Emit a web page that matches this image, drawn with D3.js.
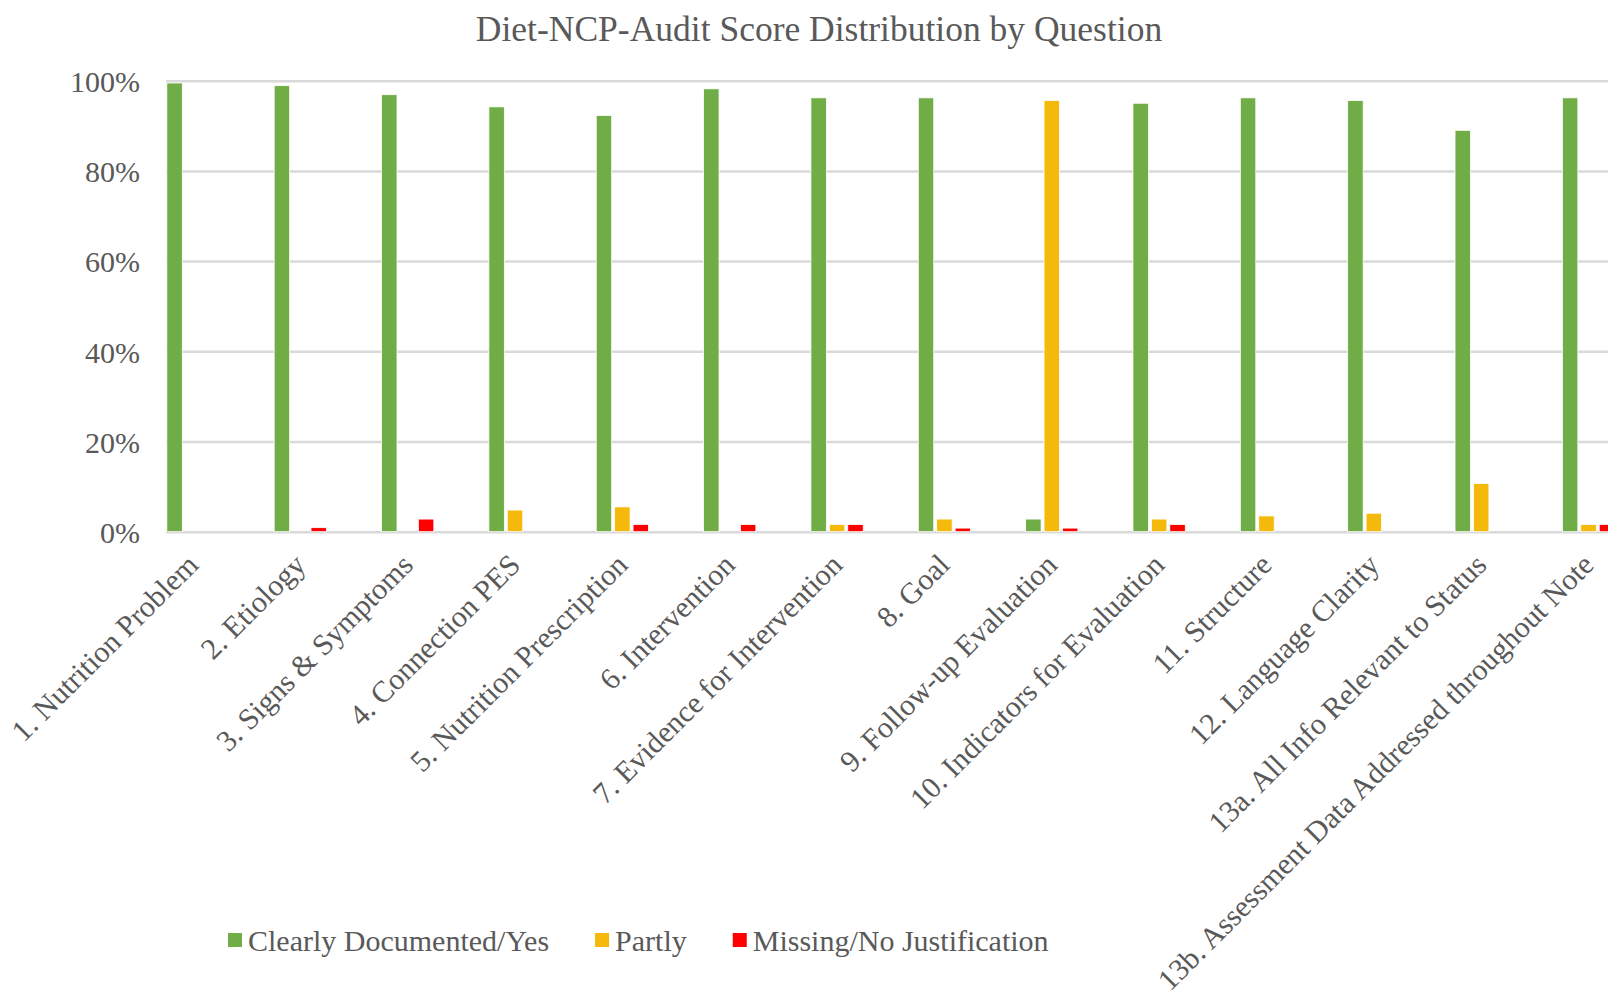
<!DOCTYPE html>
<html>
<head>
<meta charset="utf-8">
<script src="https://cdn.jsdelivr.net/npm/d3@7"></script>
<style>
  body { margin: 0; background: #fff; }
  svg { display: block; font-family: "Liberation Serif", "Times New Roman", serif; }
</style>
</head>
<body>
<svg id="chart"></svg>
<script>
// categories (x axis)
const questions = [
    "1. Nutrition Problem",
    "2. Etiology",
    "3. Signs & Symptoms",
    "4. Connection PES",
    "5. Nutrition Prescription",
    "6. Intervention",
    "7. Evidence for Intervention",
    "8. Goal",
    "9. Follow-up Evaluation",
    "10. Indicators for Evaluation",
    "11. Structure",
    "12. Language Clarity",
    "13a. All Info Relevant to Status",
    "13b. Assessment Data Addressed throughout Note"
]

const seriesNames = ["Clearly Documented/Yes", "Partly", "Missing/No Justification"]
const seriesColors = ["#70AD47", "#F5B90B", "#FF0000"]

// values (share of notes)
const clearlyDocumented = [0.995, 0.989, 0.969, 0.942, 0.923, 0.982, 0.962, 0.962, 0.028, 0.950, 0.962, 0.956, 0.890, 0.962]
const partly            = [0, 0, 0, 0.048, 0.055, 0, 0.016, 0.028, 0.956, 0.028, 0.035, 0.041, 0.107, 0.016]
const missing           = [0, 0.009, 0.028, 0, 0.016, 0.016, 0.016, 0.008, 0.008, 0.016, 0, 0, 0, 0.016]

const yTicks = [0, 0.2, 0.4, 0.6, 0.8, 1]

const w = 1608
const h = 992
const plotLeft = 166
const plotTop = 80.7
const plotBottom = 531.7
const catStep = 107.35
const catStart = 139.3
const clusterW = 52.3

const textColor = "#595959"
const gridColor = "#D9D9D9"
const fontSize = "30px"

const svg = d3.select("#chart")
    .attr("width", w)
    .attr("height", h)

// rows for drawing
const data = questions.map((q, i) => ({
    question: q,
    values: [clearlyDocumented[i], partly[i], missing[i]]
}))

//Scales
const xScale = d3.scaleBand()
    .domain(questions)
    .range([catStart, catStart + catStep * questions.length])
    .padding(0)

const offset = (catStep - clusterW) / 2
const xSub = d3.scaleBand()
    .domain(seriesNames)
    .range([offset, offset + clusterW])
    .paddingInner(0.16)

const yScale = d3.scaleLinear()
    .domain([0, 1])
    .range([plotBottom, plotTop])

//Title
svg.append("text")
    .attr("x", 819)
    .attr("y", 41)
    .attr("text-anchor", "middle")
    .attr("fill", textColor)
    .style("font-size", "35.5px")
    .text("Diet-NCP-Audit Score Distribution by Question")

//Y axis + gridlines
const axisLeft = d3.axisLeft(yScale)
    .tickValues(yTicks)
    .tickFormat(d3.format(".0%"))
    .tickSize(-(w - plotLeft))
    .tickPadding(26)

const yAxis = svg.append("g")
    .attr("transform", `translate(${plotLeft}, 0)`)
    .call(axisLeft)

yAxis.select(".domain").remove()
yAxis.selectAll(".tick line")
    .attr("stroke", gridColor)
    .attr("stroke-width", 2.5)
yAxis.selectAll(".tick text")
    .attr("fill", textColor)
    .attr("dy", "0.36em")
    .style("font-size", fontSize)
    .style("font-family", "'Liberation Serif', 'Times New Roman', serif")

//Bars
const groups = svg.append("g")
    .selectAll("g")
    .data(data)
    .enter()
    .append("g")
    .attr("transform", d => `translate(${xScale(d.question)}, 0)`)

groups.selectAll("rect")
    .data(d => d.values.map((v, j) => ({ series: seriesNames[j], value: v, color: seriesColors[j] })))
    .enter()
    .filter(d => d.value > 0)
    .append("rect")
    .attr("x", d => xSub(d.series))
    .attr("width", xSub.bandwidth())
    .attr("y", d => yScale(d.value))
    .attr("height", d => yScale(0) - yScale(d.value))
    .attr("fill", d => d.color)
    .attr("stroke", "#fff")
    .attr("stroke-width", 0.8)

//X labels, rotated
svg.append("g")
    .selectAll("text")
    .data(questions)
    .enter()
    .append("text")
    .attr("transform", d => `translate(${xScale(d) + xScale.bandwidth() / 2 + 7}, ${plotBottom + 35}) rotate(-45)`)
    .attr("text-anchor", "end")
    .attr("fill", textColor)
    .style("font-size", fontSize)
    .text(d => d)

//Legend
const legend = svg.append("g")
    .attr("transform", "translate(228, 951)")

let lx = 0
seriesNames.forEach((name, i) => {
    legend.append("rect")
        .attr("x", lx)
        .attr("y", -18)
        .attr("width", 14)
        .attr("height", 14)
        .attr("fill", seriesColors[i])

    const t = legend.append("text")
        .attr("x", lx + 20)
        .attr("y", 0)
        .attr("fill", textColor)
        .style("font-size", fontSize)
        .text(name)

    lx += 20 + t.node().getComputedTextLength() + 46
})
</script>
</body>
</html>
